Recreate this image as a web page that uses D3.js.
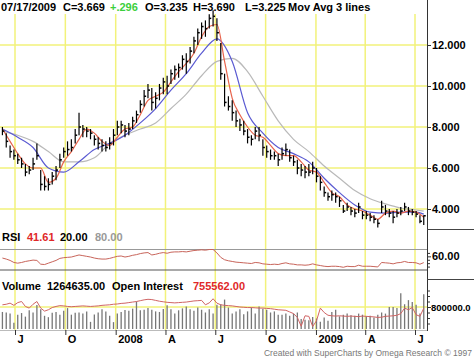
<!DOCTYPE html>
<html>
<head>
<meta charset="utf-8">
<script src="https://cdn.jsdelivr.net/npm/d3@7"></script>
<style>
  body { margin: 0; background: #fff; }
  svg { display: block; font-family: "Liberation Sans", Arial, sans-serif; }
  .label { font-size: 11px; font-weight: bold; }
  .axis text { font-size: 11px; font-weight: bold; fill: #000; }
  .axis line { stroke: #333; }
  .grid { stroke: #f2f27a; stroke-width: 1.5; }
  .credit { font-size: 8.5px; fill: #777; }
</style>
</head>
<body>
<div id="chart"></div>
<script>
// Weekly bars, first week ending 06/08/2007, last 07/17/2009
var firstWeek = new Date(2007, 5, 8);

var closes = [7.8, 7.3, 6.8, 6.6, 6.4, 6.2, 5.8, 5.9, 6.2, 6.6,
  5.2, 5.1, 5.2, 5.6, 5.9, 6.4, 6.8, 6.9, 7.0, 7.6,
  8.0, 7.9, 7.8, 7.7, 7.4, 7.2, 7.1, 7.0, 7.2, 7.6,
  8.0, 8.1, 7.8, 7.9, 8.3, 8.6, 9.1, 9.5, 9.8, 9.2,
  9.4, 9.9, 10.2, 10.0, 10.6, 10.8, 10.9, 11.3, 11.2, 11.7,
  12.2, 12.6, 12.9, 12.8, 13.3, 13.4, 12.6, 10.6, 9.2, 9.0,
  8.7, 8.3, 8.1, 7.8, 7.5, 7.4, 7.8, 7.6, 7.0, 6.8,
  6.6, 6.6, 6.4, 6.7, 6.9, 6.5, 6.3, 6.0, 5.9, 5.8,
  5.8, 6.0, 5.6, 5.3, 4.8, 4.6, 4.7, 4.6, 4.4, 3.9,
  4.1, 3.9, 3.8, 4.1, 3.7, 3.7, 3.6, 3.5, 3.3, 4.1,
  3.9, 3.8, 3.6, 3.8, 3.9, 4.1, 3.9, 3.85, 3.75, 3.4,
  3.669];

var highs = [8.0, 7.7, 7.1, 6.9, 6.7, 6.5, 6.2, 6.1, 6.5, 7.2,
  5.9, 5.6, 5.5, 5.8, 6.1, 6.7, 7.0, 7.3, 7.4, 7.9,
  8.7, 8.1, 8.0, 7.9, 7.6, 7.5, 7.4, 7.3, 7.5, 7.9,
  8.3, 8.3, 8.1, 8.2, 8.5, 8.8, 9.3, 9.8, 10.1, 9.9,
  9.7, 10.1, 10.4, 10.5, 10.8, 11.0, 11.1, 11.5, 11.6, 11.9,
  12.4, 12.8, 13.1, 13.2, 13.5, 13.7, 13.3, 12.1, 10.6, 9.5,
  9.3, 8.8, 8.4, 8.3, 7.9, 7.6, 8.0, 8.0, 7.4, 7.1,
  6.9, 6.8, 6.7, 7.0, 7.2, 6.9, 6.6, 6.4, 6.2, 6.1,
  6.2, 6.3, 6.0, 5.6, 5.1, 4.8, 4.9, 4.8, 4.6, 4.2,
  4.3, 4.1, 4.0, 4.3, 3.9, 3.9, 3.8, 3.7, 3.5, 4.4,
  4.2, 4.0, 3.9, 4.0, 4.1, 4.3, 4.1, 4.0, 3.9, 3.7,
  3.69];

var lows = [7.6, 7.0, 6.5, 6.4, 6.2, 6.0, 5.6, 5.7, 5.9, 6.4,
  4.9, 4.9, 4.9, 5.2, 5.4, 6.0, 6.5, 6.6, 6.8, 7.2,
  7.6, 7.5, 7.5, 7.4, 7.1, 6.9, 6.8, 6.8, 6.9, 7.1,
  7.6, 7.7, 7.5, 7.6, 7.9, 8.2, 8.7, 9.0, 9.4, 8.8,
  8.9, 9.3, 9.6, 9.6, 10.1, 10.3, 10.4, 10.8, 10.6, 11.1,
  11.6, 12.0, 12.3, 12.4, 12.8, 12.9, 12.2, 10.3, 9.0, 8.8,
  8.3, 8.0, 7.8, 7.6, 7.2, 7.1, 7.4, 7.3, 6.6, 6.5,
  6.4, 6.4, 6.1, 6.4, 6.6, 6.3, 6.1, 5.7, 5.6, 5.5,
  5.6, 5.7, 5.3, 4.9, 4.6, 4.4, 4.4, 4.3, 4.1, 3.8,
  3.9, 3.7, 3.6, 3.8, 3.5, 3.5, 3.4, 3.3, 3.1, 3.8,
  3.7, 3.6, 3.3, 3.6, 3.7, 3.9, 3.7, 3.7, 3.6, 3.3,
  3.225];

// Moving averages (week index -> value)
var maFastWeeks = d3.range(0, 111, 2);
var maFast = [7.9, 7.3, 6.7, 6.2, 6.0, 6.0, 5.3, 5.5, 6.3, 6.8,
  7.4, 7.9, 7.7, 7.3, 7.1, 7.5, 7.9, 8.0, 8.6, 9.3,
  9.5, 9.7, 10.2, 10.7, 11.1, 11.6, 12.4, 12.9, 13.0, 11.2,
  9.4, 8.6, 8.0, 7.6, 7.5, 7.1, 6.7, 6.6, 6.6, 6.3,
  5.9, 5.8, 5.3, 4.8, 4.6, 4.2, 4.0, 3.9, 3.7, 3.5,
  3.8, 3.9, 3.8, 3.9, 3.85, 3.6];

var maSlowWeeks = d3.range(0, 109, 4).concat([110]);
var maMid = [7.9, 7.5, 7.0, 6.0, 5.8, 6.3, 6.9, 7.2, 7.6, 8.2,
  8.9, 9.8, 10.6, 11.6, 12.3, 11.2, 8.7, 7.7, 7.0, 6.7,
  6.3, 5.5, 4.8, 4.2, 3.85, 3.8, 3.85, 3.85, 3.75];
var maSlow = [7.8, 7.6, 7.3, 6.8, 6.3, 6.3, 6.5, 7.2, 7.6, 7.9,
  8.2, 8.9, 9.6, 10.5, 11.2, 11.35, 10.7, 9.5, 8.3, 7.4,
  6.8, 6.1, 5.5, 4.9, 4.5, 4.25, 4.05, 3.95, 3.9];

var rsi = [55, 52, 48, 42, 40, 42, 45, 47, 49, 48,
  37, 36, 40, 44, 48, 54, 56, 57, 58, 61,
  64, 62, 60, 58, 55, 53, 52, 52, 54, 57,
  60, 61, 58, 60, 63, 65, 68, 70, 71, 64,
  66, 69, 71, 69, 72, 73, 73, 74, 73, 75,
  77, 78, 79, 78, 80, 80, 70, 57, 50, 47,
  45, 43, 42, 41, 40, 39, 42, 41, 38, 37,
  36, 37, 36, 39, 41, 38, 37, 35, 35, 34,
  35, 38, 35, 33, 31, 30, 31, 31, 30, 28,
  31, 30, 30, 34, 31, 31, 31, 30, 29, 42,
  41, 40, 38, 41, 42, 45, 42, 42, 41, 37,
  41.61];

// Volume and open interest, in thousands
var volumeK = [620, 600, 560, 230, 520, 580, 450, 680, 600, 870,
  720, 480, 430, 590, 620, 520, 660, 760, 520, 590,
  600, 560, 640, 260, 530, 600, 720, 640, 480, 250,
  560, 620, 690, 660, 740, 1000, 680, 700, 760, 700,
  640, 620, 730, 860, 720, 560, 680, 750, 820, 720,
  660, 780, 700, 600, 720, 560, 880, 900, 1070, 780,
  560, 640, 720, 540, 640, 780, 560, 820, 740, 700,
  600, 640, 520, 520, 560, 480, 560, 600, 360, 340,
  320, 440, 380, 260, 420, 300, 620, 700, 460, 520,
  560, 500, 480, 560, 520, 460, 480, 420, 520, 600,
  560, 800, 800, 760, 1300, 900, 1050, 980, 880, 560,
  1264.635];

var openInterestK = [880, 900, 940, 860, 960, 1000, 820, 760, 900, 1000,
  760, 650, 700, 780, 820, 850, 840, 820, 810, 820,
  830, 840, 830, 820, 830, 840, 860, 870, 880, 900,
  910, 930, 940, 960, 980, 1000, 1030, 1060, 1080, 1070,
  1040, 1010, 990, 970, 960, 950, 960, 970, 980, 1000,
  1020, 1030, 1040, 880, 950, 1100, 940, 880, 860, 850,
  840, 820, 800, 790, 780, 780, 770, 760, 760, 750,
  740, 720, 700, 690, 680, 620, 560, 420, 100, 480,
  460, 90, 300, 760, 600, 500, 480, 470, 480, 470,
  460, 470, 460, 450, 470, 460, 450, 440, 420, 430,
  460, 470, 480, 500, 560, 760, 700, 780, 520, 460,
  755.562];

var priceTicks = [4, 6, 8, 10, 12];
var quarterLabels = ["J", "O", "2008", "A", "J", "O", "2009", "A", "J"];

var COLORS = {
  grid: "#f2f27a",
  maFast: "#e8644c",
  maMid: "#5a5ad2",
  maSlow: "#b9b9b9",
  rsi: "#c8645a",
  oi: "#d06464",
  volume: "#777"
};

var render = function() {
  var width = 474;
  var height = 358;
  var plotRight = 427;

  var dates = closes.map((d, i) => d3.timeDay.offset(firstWeek, 7 * i));
  var quarters = d3.timeMonth.every(3).range(new Date(2007, 6, 1), new Date(2009, 6, 2));

  var svg = d3.select("#chart").html("")
    .append("svg")
    .attr("width", width)
    .attr("height", height);

  svg.append("rect").attr("width", width).attr("height", height).attr("fill", "#fff");

  // Scales
  var xScale = d3.scaleTime()
    .domain([new Date(2007, 6, 1), new Date(2009, 6, 1)])
    .range([15, 415]);
  var xAt = i => xScale(dates[i]);

  var yPrice = d3.scaleLinear().domain([4, 12]).range([209, 45]);
  var yRsi = d3.scaleLinear().domain([20, 80]).range([270, 249.5]);
  var yVol = d3.scaleLinear().domain([0, 800]).range([329, 307]);

  // Grid lines
  var grid = svg.append("g").attr("class", "grids");
  grid.selectAll("line.v")
    .data(quarters)
    .enter().append("line")
    .attr("class", "grid v")
    .attr("x1", d => xScale(d)).attr("x2", d => xScale(d))
    .attr("y1", 14).attr("y2", 330);
  grid.selectAll("line.h")
    .data(priceTicks)
    .enter().append("line")
    .attr("class", "grid h")
    .attr("x1", 0).attr("x2", plotRight)
    .attr("y1", d => yPrice(d)).attr("y2", d => yPrice(d));
  grid.append("line")
    .attr("class", "grid")
    .attr("x1", 0).attr("x2", plotRight)
    .attr("y1", yVol(800)).attr("y2", yVol(800));

  // Price panel
  var main = svg.append("g");

  var maLine = weeks => d3.line()
    .x((d, i) => xAt(weeks[i]))
    .y(d => yPrice(d))
    .curve(d3.curveMonotoneX);

  [[maSlow, maSlowWeeks, COLORS.maSlow], [maMid, maSlowWeeks, COLORS.maMid], [maFast, maFastWeeks, COLORS.maFast]]
    .forEach(function(s) {
      main.append("path")
        .attr("d", maLine(s[1])(s[0]))
        .attr("fill", "none")
        .attr("stroke", s[2])
        .attr("stroke-width", 1.2);
    });

  var bars = main.append("g").attr("class", "bars");
  bars.selectAll("line.hl")
    .data(closes)
    .enter().append("line")
    .attr("x1", (d, i) => xAt(i)).attr("x2", (d, i) => xAt(i))
    .attr("y1", (d, i) => yPrice(highs[i]))
    .attr("y2", (d, i) => yPrice(lows[i]))
    .attr("stroke", "#000")
    .attr("stroke-width", 1.2);
  bars.selectAll("line.c")
    .data(closes)
    .enter().append("line")
    .attr("x1", (d, i) => xAt(i)).attr("x2", (d, i) => xAt(i) + 2)
    .attr("y1", d => yPrice(d)).attr("y2", d => yPrice(d))
    .attr("stroke", "#000")
    .attr("stroke-width", 1.5);

  // RSI panel
  svg.append("line")
    .attr("x1", 0).attr("x2", plotRight)
    .attr("y1", yRsi(80)).attr("y2", yRsi(80))
    .attr("stroke", "#999");
  svg.append("line")
    .attr("x1", 0).attr("x2", plotRight)
    .attr("y1", yRsi(20)).attr("y2", yRsi(20))
    .attr("stroke", "#555");
  svg.append("path")
    .attr("d", d3.line().x((d, i) => xAt(i)).y(d => yRsi(d))(rsi))
    .attr("fill", "none")
    .attr("stroke", COLORS.rsi)
    .attr("stroke-width", 1);

  // Volume panel
  svg.append("g").selectAll("line")
    .data(volumeK)
    .enter().append("line")
    .attr("x1", (d, i) => xAt(i)).attr("x2", (d, i) => xAt(i))
    .attr("y1", yVol(0)).attr("y2", d => yVol(d))
    .attr("stroke", COLORS.volume)
    .attr("stroke-width", 1.3);
  svg.append("path")
    .attr("d", d3.line().x((d, i) => xAt(i)).y(d => yVol(d))(openInterestK))
    .attr("fill", "none")
    .attr("stroke", COLORS.oi)
    .attr("stroke-width", 1);

  // Right axes
  svg.append("line")
    .attr("x1", plotRight + 0.5).attr("x2", plotRight + 0.5)
    .attr("y1", 0).attr("y2", 331)
    .attr("stroke", "#333");
  [229.5, 279.5].forEach(function(y) {
    svg.append("line")
      .attr("x1", plotRight).attr("x2", width)
      .attr("y1", y).attr("y2", y)
      .attr("stroke", "#444");
  });

  var priceAxis = d3.axisRight(yPrice)
    .tickValues(priceTicks)
    .tickSize(4)
    .tickPadding(1)
    .tickFormat(d3.format(".3f"));
  svg.append("g")
    .attr("class", "axis")
    .attr("transform", `translate(${plotRight},0)`)
    .call(priceAxis)
    .call(g => g.select(".domain").remove());

  var rsiMinor = d3.axisRight(yRsi).tickValues([30, 40, 50, 70]).tickSize(3).tickFormat("");
  svg.append("g").attr("class", "axis").attr("transform", `translate(${plotRight},0)`)
    .call(rsiMinor).call(g => g.select(".domain").remove());
  svg.append("g").attr("class", "axis").attr("transform", `translate(${plotRight},0)`)
    .call(d3.axisRight(yRsi).tickValues([60]).tickSize(4).tickPadding(1).tickFormat(d3.format(".2f")))
    .call(g => g.select(".domain").remove());

  var volMinor = d3.axisRight(yVol).tickValues([200, 400, 600, 1000, 1200, 1400]).tickSize(3).tickFormat("");
  svg.append("g").attr("class", "axis").attr("transform", `translate(${plotRight},0)`)
    .call(volMinor).call(g => g.select(".domain").remove());
  svg.append("g").attr("class", "axis").attr("transform", `translate(${plotRight},0)`)
    .call(d3.axisRight(yVol).tickValues([800]).tickSize(4).tickPadding(0)
      .tickFormat(d => d3.format(".1f")(d * 1000)))
    .call(g => g.select(".domain").remove())
    .call(g => g.selectAll("text").style("font-size", "9.5px"));

  // Bottom time axis
  svg.append("line")
    .attr("x1", 0).attr("x2", plotRight)
    .attr("y1", 330.5).attr("y2", 330.5)
    .attr("stroke", "#bbb");
  var xAxis = d3.axisBottom(xScale)
    .tickValues(quarters)
    .tickSize(5)
    .tickPadding(0)
    .tickFormat((d, i) => quarterLabels[i]);
  svg.append("g")
    .attr("class", "axis x")
    .attr("transform", "translate(0,330)")
    .call(xAxis)
    .call(g => g.select(".domain").remove())
    .call(g => g.selectAll("text").attr("text-anchor", "start").attr("x", 2));

  // Header and panel labels
  var header = svg.append("text").attr("class", "label").attr("y", 11);
  [["07/17/2009", 1, "#000"], ["C=3.669", 63, "#000"], ["+.296", 110, "#3ccf3c"],
   ["O=3.235", 145, "#000"], ["H=3.690", 193, "#000"], ["L=3.225", 245, "#000"],
   ["Mov Avg 3 lines", 288, "#000"]].forEach(function(t) {
    header.append("tspan").attr("x", t[1]).attr("fill", t[2]).text(t[0]);
  });

  var rsiLabel = svg.append("text").attr("class", "label").attr("y", 241);
  [["RSI", 2, "#000"], ["41.61", 27, "#e02828"], ["20.00", 60, "#000"], ["80.00", 95, "#999"]]
    .forEach(function(t) {
      rsiLabel.append("tspan").attr("x", t[1]).attr("fill", t[2]).text(t[0]);
    });

  var volLabel = svg.append("text").attr("class", "label").attr("y", 290);
  [["Volume", 2, "#000"], ["1264635.00", 47, "#000"], ["Open Interest", 112, "#000"], ["755562.00", 193, "#e02828"]]
    .forEach(function(t) {
      volLabel.append("tspan").attr("x", t[1]).attr("fill", t[2]).text(t[0]);
    });

  svg.append("text")
    .attr("class", "credit")
    .attr("x", 472)
    .attr("y", 356)
    .attr("text-anchor", "end")
    .text("Created with SuperCharts by Omega Research \u00a9 1997");
};

window.onload = render;
</script>
</body>
</html>
